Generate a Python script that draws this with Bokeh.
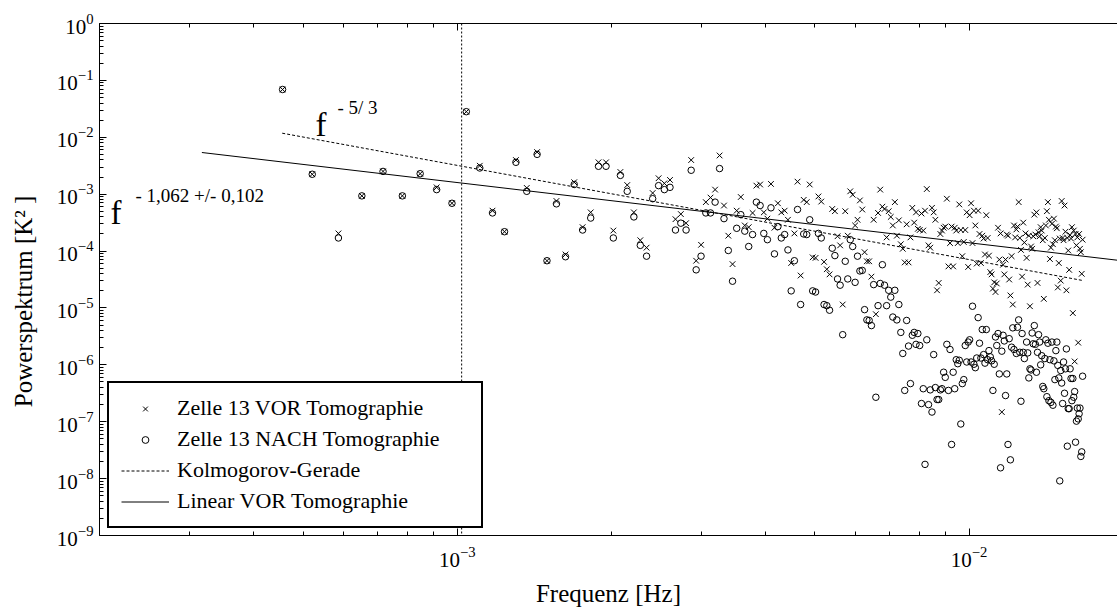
import math
from bokeh.plotting import figure
from bokeh.models import (Range1d, LogAxis, FixedTicker, Span, Label, Legend,
                          LegendItem, CustomJSTickFormatter)
from bokeh.embed import file_html
from bokeh.resources import INLINE

# ---------------- data ----------------
BIN_WIDTH_HZ = 1.0 / 15360.0   # spectral resolution (256 min record)

# (frequency bin, log10 power) -- Zelle 13 VOR Tomographie
vor_points = [
    (7, -1.16), (8, -2.65), (9, -3.69), (10, -3.03), (11, -2.60), (12, -3.03), (13, -2.64), (14, -2.88), (15, -3.16), (16, -1.55),
    (17, -2.50), (18, -3.29), (19, -3.66), (20, -2.40), (21, -2.89), (22, -2.26), (23, -4.17), (24, -3.12), (25, -4.06), (26, -2.79),
    (27, -3.58), (28, -3.32), (29, -2.44), (30, -2.44), (31, -3.64), (32, -2.61), (33, -2.84), (34, -3.32), (35, -3.81), (36, -3.94),
    (37, -2.98), (38, -2.72), (39, -2.81), (40, -2.75), (41, -3.44), (42, -3.35), (43, -3.51), (44, -2.40), (45, -4.17), (46, -3.89),
    (47, -3.14), (48, -3.06), (49, -2.92), (50, -2.32), (51, -3.20), (52, -3.73), (53, -4.23), (54, -3.29), (55, -3.05), (56, -3.55),
    (57, -3.58), (58, -3.33), (59, -2.85), (60, -2.83), (61, -3.32), (62, -3.43), (63, -2.82), (64, -3.59), (65, -3.16), (66, -3.32),
    (67, -3.29), (68, -3.45), (69, -4.21), (70, -3.69), (71, -2.78), (72, -4.43), (73, -3.10), (74, -3.14), (75, -2.83), (76, -4.11),
    (77, -4.12), (78, -3.04), (79, -3.13), (80, -4.19), (81, -4.32), (82, -4.41), (83, -3.26), (84, -3.30), (85, -3.74), (86, -3.90),
    (87, -4.94), (88, -3.30), (89, -3.73), (90, -2.95), (91, -3.01), (92, -3.55), (93, -3.45), (94, -3.11), (95, -3.27), (96, -4.02),
    (97, -4.18), (98, -4.18), (99, -4.45), (100, -3.45), (101, -5.11), (102, -3.33), (103, -2.92), (104, -3.22), (105, -3.26), (106, -3.76),
    (107, -3.30), (108, -3.40), (109, -3.55), (110, -3.14),
    (111, -3.73), (112, -3.46), (113, -3.88), (114, -3.96), (115, -4.20), (116, -3.53), (117, -4.20), (118, -3.76), (119, -3.24), (120, -3.50),
    (121, -3.32), (122, -3.61), (123, -3.63), (124, -3.34), (125, -3.64), (126, -3.29), (127, -2.91), (128, -3.90), (129, -3.94), (130, -3.24),
    (131, -3.32), (132, -3.45), (133, -4.69), (134, -4.56), (135, -3.70), (136, -3.64), (137, -3.59), (138, -3.57), (139, -3.08), (140, -4.27),
    (141, -3.86), (142, -3.57), (143, -4.27), (144, -3.59), (145, -3.64), (146, -3.86), (147, -3.18), (148, -3.63), (149, -4.09), (150, -3.84),
    (151, -3.63), (152, -3.32), (153, -4.28), (154, -3.37), (155, -3.16), (156, -3.86), (157, -3.29), (158, -3.55), (159, -4.22), (160, -3.29),
    (161, -3.70), (162, -4.21), (163, -3.73), (164, -3.78), (165, -4.06), (166, -3.37), (167, -3.77), (168, -4.08), (169, -4.37), (170, -4.41),
    (171, -4.66), (172, -4.55), (173, -4.72), (174, -4.57), (175, -3.59), (176, -4.15), (177, -3.69), (178, -6.83), (179, -4.24), (180, -4.41),
    (181, -4.15), (182, -3.71), (183, -3.73), (184, -4.50), (185, -4.78), (186, -4.09), (187, -4.94), (188, -3.55), (189, -3.76), (190, -3.62),
    (191, -3.57), (192, -3.14), (193, -3.77), (194, -3.98), (195, -4.45), (196, -3.50), (197, -3.85), (198, -3.69), (199, -4.12), (200, -4.59),
    (201, -3.73), (202, -4.97), (203, -3.92), (204, -3.96), (205, -3.74), (206, -3.36), (207, -3.71), (208, -3.32), (209, -4.56), (210, -3.67),
    (211, -3.74), (212, -3.58), (213, -3.64), (214, -3.81), (215, -4.84), (216, -3.77), (217, -3.55), (218, -3.30), (219, -3.14), (220, -3.45),
    (221, -4.14), (222, -3.94), (223, -3.52), (224, -3.88), (225, -3.43), (226, -3.81), (227, -3.57), (228, -3.60), (229, -4.64), (230, -4.21),
    (231, -3.78), (232, -4.52), (233, -3.12), (234, -3.77), (235, -3.81), (236, -3.20), (237, -3.66), (238, -4.69), (239, -3.77), (240, -3.99),
    (241, -4.33), (242, -3.72), (243, -3.78), (244, -3.58), (245, -5.09), (246, -3.64), (247, -5.94), (248, -3.70), (249, -3.90), (250, -3.76),
    (251, -5.61), (252, -3.70), (253, -3.96), (254, -4.02), (255, -4.40), (256, -3.80),
]

# (frequency bin, log10 power) -- Zelle 13 NACH Tomographie
nach_points = [
    (7, -1.16), (8, -2.65), (9, -3.77), (10, -3.03), (11, -2.60), (12, -3.03), (13, -2.64), (14, -2.92), (15, -3.16), (16, -1.55),
    (17, -2.54), (18, -3.33), (19, -3.66), (20, -2.44), (21, -2.95), (22, -2.30), (23, -4.17), (24, -3.17), (25, -4.10), (26, -2.83),
    (27, -3.63), (28, -3.42), (29, -2.51), (30, -2.51), (31, -3.77), (32, -2.67), (33, -2.95), (34, -3.40), (35, -3.90), (36, -4.09),
    (37, -3.08), (38, -2.85), (39, -2.92), (40, -2.88), (41, -3.63), (42, -3.51), (43, -3.63), (44, -2.58), (45, -4.33), (46, -4.09),
    (47, -3.33), (48, -3.33), (49, -3.14), (50, -2.55), (51, -3.43), (52, -3.99), (53, -4.53), (54, -3.60), (55, -3.36), (56, -3.65),
    (57, -3.92), (58, -3.71), (59, -3.14), (60, -3.20), (61, -3.69), (62, -3.80), (63, -3.24), (64, -4.05), (65, -3.57), (66, -3.77),
    (67, -3.71), (68, -3.98), (69, -4.70), (70, -4.17), (71, -3.27), (72, -4.94), (73, -3.70), (74, -3.71), (75, -3.45), (76, -4.70),
    (77, -4.72), (78, -3.69), (79, -3.77), (80, -4.94), (81, -4.96), (82, -5.04), (83, -3.95), (84, -4.08), (85, -4.49), (86, -4.60),
    (87, -5.47), (88, -4.18), (89, -4.49), (90, -3.80), (91, -3.92), (92, -4.55), (93, -4.09), (94, -4.35), (95, -4.34), (96, -5.03),
    (97, -5.21), (98, -5.22), (99, -5.31), (100, -4.59), (101, -6.57), (102, -4.96), (103, -4.57), (104, -4.24), (105, -4.60), (106, -4.96),
    (107, -4.69), (108, -4.81), (109, -5.16), (110, -4.69),
    (111, -5.21), (112, -4.94), (113, -5.43), (114, -5.80), (115, -6.45), (116, -5.22), (117, -5.67), (118, -6.33), (119, -5.48), (120, -5.43),
    (121, -5.64), (122, -5.45), (123, -5.66), (124, -6.68), (125, -6.42), (126, -7.75), (127, -5.56), (128, -6.70), (129, -6.44), (130, -6.83),
    (131, -5.82), (132, -6.40), (133, -6.61), (134, -6.61), (135, -6.44), (136, -6.42), (137, -6.13), (138, -6.22), (139, -5.64), (140, -6.45),
    (141, -5.73), (142, -7.40), (143, -6.13), (144, -6.42), (145, -5.91), (146, -5.98), (147, -5.92), (148, -7.04), (149, -6.33), (150, -6.26),
    (151, -5.66), (152, -5.95), (153, -5.60), (154, -5.56), (155, -5.95), (156, -4.97), (157, -5.99), (158, -6.05), (159, -5.88), (160, -5.17),
    (161, -5.62), (162, -5.88), (163, -5.38), (164, -5.82), (165, -5.97), (166, -5.38), (167, -5.91), (168, -5.75), (169, -5.86), (170, -5.93),
    (171, -6.45), (172, -5.99), (173, -5.51), (174, -5.66), (175, -5.45), (176, -6.16), (177, -7.81), (178, -5.76), (179, -5.48), (180, -5.58),
    (181, -6.54), (182, -6.16), (183, -7.40), (184, -5.54), (185, -7.67), (186, -5.69), (187, -5.35), (188, -5.73), (190, -5.80), (191, -5.34),
    (192, -5.21), (193, -5.78), (194, -6.64), (195, -5.45), (196, -5.78), (197, -5.89), (199, -5.60), (200, -5.79), (201, -6.23), (202, -6.07),
    (203, -6.09), (204, -5.44), (205, -5.63), (206, -5.31), (207, -5.64), (208, -6.13), (209, -5.78), (210, -5.47), (211, -5.60), (212, -6.00),
    (213, -5.84), (214, -6.38), (215, -6.42), (216, -5.89), (217, -5.56), (218, -6.56), (219, -5.62), (220, -6.63), (221, -5.91), (222, -6.66),
    (223, -5.60), (224, -6.71), (225, -5.93), (226, -6.26), (227, -5.75), (228, -5.60), (229, -6.01), (230, -6.23), (231, -8.04), (232, -6.10),
    (233, -6.32), (234, -6.68), (235, -5.95), (236, -6.50), (237, -6.07), (238, -5.72), (239, -7.43), (240, -6.77), (241, -6.77), (242, -6.07),
    (243, -6.24), (244, -6.63), (245, -6.24), (246, -6.57), (247, -6.47), (248, -7.36), (249, -6.99), (250, -6.76), (251, -6.95), (252, -6.86),
    (253, -6.76), (254, -7.61), (255, -7.53), (256, -6.20),
]

kolmogorov_f = [4.55e-4, 1.667e-2]      # Kolmogorov-Gerade (f^-5/3)
kolmogorov_p = [1.18e-2, 3.04e-5]
fit_f = [3.17e-4, 1.95e-2]              # Linear VOR Tomographie (f^-1.062)
fit_p = [5.4e-3, 6.9e-5]
marker_freq = 1.02e-3                   # vertical dotted line

x_major = [1e-3, 1e-2]
y_major = [10.0 ** e for e in range(-9, 1)]

# ---------------- derived ----------------
vor_f = [b * BIN_WIDTH_HZ for b, _ in vor_points]
vor_p = [10.0 ** v for _, v in vor_points]
nach_f = [b * BIN_WIDTH_HZ for b, _ in nach_points]
nach_p = [10.0 ** v for _, v in nach_points]

x_minor = [m * 10.0 ** e for e in (-4, -3, -2) for m in range(2, 10)]
y_minor = [m * 10.0 ** e for e in range(-9, 0) for m in range(2, 10)]

FONT = "Liberation Serif"
NBSP = "\u00a0"

p = figure(width=1117, height=609, x_axis_type="log", y_axis_type="log",
           x_range=Range1d(2e-4, 0.0195), y_range=Range1d(1e-9, 1.0),
           output_backend="svg", toolbar_location=None,
           min_border_left=99, min_border_right=0, min_border_top=23, min_border_bottom=74)
p.outline_line_color = None
p.grid.visible = False
p.background_fill_color = "white"
p.border_fill_color = "white"

p.xaxis.ticker = FixedTicker(ticks=x_major, minor_ticks=x_minor)
p.yaxis.ticker = FixedTicker(ticks=y_major, minor_ticks=y_minor)

for ax in (p.xaxis[0], p.yaxis[0]):
    ax.axis_line_color = "black"
    ax.major_tick_line_color = "black"
    ax.minor_tick_line_color = "black"
    ax.major_tick_in = 7
    ax.major_tick_out = 0
    ax.minor_tick_in = 4
    ax.minor_tick_out = 0
    ax.major_label_text_font = FONT
    ax.major_label_text_font_size = "21px"
    ax.major_label_text_color = "black"
    ax.major_label_standoff = 6
    ax.axis_label_text_font = FONT
    ax.axis_label_text_font_size = "25px"
    ax.axis_label_text_font_style = "normal"
    ax.axis_label_text_color = "black"

p.xaxis.axis_label = "Frequenz [Hz]"
p.xaxis.major_label_standoff = 11
p.xaxis.axis_label_standoff = 10
# trailing no-break spaces shift the visible text down, as in the reference
p.yaxis.axis_label = "Powerspektrum [K² ]" + NBSP * 7
p.yaxis.axis_label_standoff = 17

top = LogAxis(ticker=FixedTicker(ticks=x_major, minor_ticks=x_minor),
              formatter=CustomJSTickFormatter(code="return ''"),
              major_label_text_font_size="0px", major_label_standoff=0,
              major_tick_in=7, major_tick_out=0, minor_tick_in=4, minor_tick_out=0,
              axis_line_color="black", major_tick_line_color="black",
              minor_tick_line_color="black")
p.add_layout(top, "above")

span = Span(location=marker_freq, dimension="height", line_color="black",
            line_width=1, line_dash="2 2")
p.add_layout(span)

r_vor = p.scatter(vor_f, vor_p, marker="x", size=8, line_color="black", line_width=1)
r_nach = p.scatter(nach_f, nach_p, marker="circle", size=6.5, fill_color=None,
                   line_color="black", line_width=1)
r_kol = p.line(kolmogorov_f, kolmogorov_p, line_color="black", line_width=1, line_dash="3 2")
r_fit = p.line(fit_f, fit_p, line_color="black", line_width=1)

# annotations (screen units, relative to the frame's bottom-left corner)
def lab(x, y, text, size):
    p.add_layout(Label(x=x, y=y, x_units="screen", y_units="screen", text=text,
                       text_font=FONT, text_font_size=size, text_color="black",
                       text_baseline="alphabetic", text_align="left"))

lab(216, 411, "f", "33px")
lab(238, 428, "- 5/ 3", "19px")
lab(11, 323, "f", "33px")
lab(36, 340, "- 1,062 +/- 0,102", "19px")

legend = Legend(items=[
    LegendItem(label="Zelle 13 VOR Tomographie", renderers=[r_vor]),
    LegendItem(label="Zelle 13 NACH Tomographie", renderers=[r_nach]),
    LegendItem(label="Kolmogorov-Gerade", renderers=[r_kol]),
    LegendItem(label="Linear VOR Tomographie", renderers=[r_fit]),
], location=(8, 7), margin=0, padding=12, spacing=5, label_height=26, glyph_height=17,
    glyph_width=48, label_width=292, label_standoff=8,
    label_text_font=FONT, label_text_font_size="22px", label_text_color="black",
    border_line_color="black", border_line_width=2, border_line_alpha=1.0,
    background_fill_color="white", background_fill_alpha=1.0)
p.add_layout(legend)

open("out.html", "w").write(file_html(p, INLINE))
